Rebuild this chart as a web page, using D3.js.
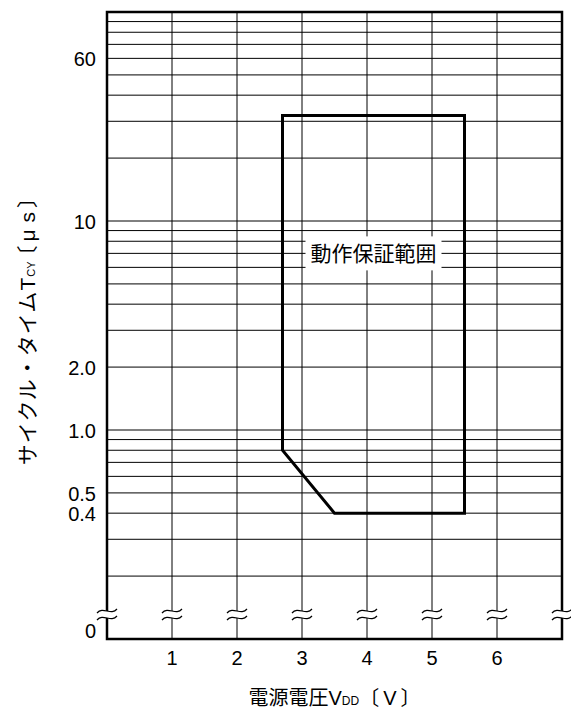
<!DOCTYPE html>
<html><head><meta charset="utf-8">
<script src="https://cdn.jsdelivr.net/npm/d3@7"></script>
<style>
body{margin:0;background:#fff}
text{font-family:"Liberation Sans",Arial,"Noto Sans CJK JP",sans-serif;fill:#000}
</style>
</head><body><svg id="c" width="571" height="711"></svg>
<script>
// ---- data ----
const xDomain = [0, 7];
const xTicks = [1, 2, 3, 4, 5, 6];
const yDomain = [0.1, 100];
const yGrid = [0.2,0.3,0.4,0.5,0.6,0.7,0.8,0.9,1,2,3,4,5,6,7,8,9,10,20,30,40,50,60,70,80,90];
const yTickValues = [60, 10, 2, 1, 0.5, 0.4];
const yTickLabels = ["60", "10", "2.0", "1.0", "0.5", "0.4"];
const zeroLabel = "0";
const breakXs = [0, 1, 2, 3, 4, 5, 6, 7];
const regionV = [2.7, 5.5, 5.5, 3.5, 2.7];
const regionT = [32, 32, 0.4, 0.4, 0.8];
const regionLabel = "動作保証範囲";
const regionLabelAt = [4.1, 7];
const xTitle = ["電源電圧V", "DD", "〔", "V", "〕"];
const yTitle = ["サイクル・タイムT", "CY", "〔", "μ", "s", "〕"];

// ---- chart ----
const svg = d3.select("#c");
const L = 107, R = 562, T = 12, B = 639;
const x = d3.scaleLinear().domain(xDomain).range([L, R]);
const y = d3.scaleLog().domain(yDomain).range([B, T]);

const g = svg.append("g");
g.selectAll("line.h").data(yGrid).join("line")
  .attr("x1", L).attr("x2", R)
  .attr("y1", d => y(d)).attr("y2", d => y(d))
  .attr("stroke", "#000").attr("stroke-width", 1);
g.selectAll("line.v").data(xTicks).join("line")
  .attr("y1", y(yDomain[1])).attr("y2", y(yDomain[0]))
  .attr("x1", d => x(d)).attr("x2", d => x(d))
  .attr("stroke", "#000").attr("stroke-width", 1);

svg.append("rect").attr("x", L).attr("y", T).attr("width", R - L).attr("height", B - T)
  .attr("fill", "none").attr("stroke", "#000").attr("stroke-width", 2.5);

// region label with white box
const lx = x(regionLabelAt[0]), ly = y(regionLabelAt[1]);
const lbl = svg.append("text").attr("x", lx).attr("y", ly).attr("dy", "0.36em")
  .attr("text-anchor", "middle").attr("font-size", 21).text(regionLabel);
const bb = lbl.node().getBBox();
svg.insert("rect", "text").attr("x", bb.x - 5).attr("y", ly - 17)
  .attr("width", bb.width + 10).attr("height", 34).attr("fill", "#fff");

// region polygon
const line = d3.line().x((d, i) => x(regionV[i])).y((d, i) => y(regionT[i]));
svg.append("path").attr("d", line(regionV) + "Z")
  .attr("fill", "none").attr("stroke", "#000").attr("stroke-width", 3)
  .attr("stroke-linejoin", "miter");

// break marks
const by = y(yDomain[0]) - 28;
const bk = svg.selectAll("g.bk").data(breakXs).join("g")
  .attr("transform", d => `translate(${x(d)},${by})`);
bk.append("path").attr("d", "M-10,2 C-4,-5 4,5 10,-2 L10,5 C4,12 -4,2 -10,9 Z").attr("fill", "#fff");
bk.append("path").attr("d", "M-10,2 C-4,-5 4,5 10,-2").attr("fill", "none").attr("stroke", "#000").attr("stroke-width", 1.2);
bk.append("path").attr("d", "M-10,9 C-4,2 4,12 10,5").attr("fill", "none").attr("stroke", "#000").attr("stroke-width", 1.2);

// y tick labels
svg.selectAll("text.yt").data(yTickValues).join("text").attr("class", "yt")
  .attr("x", 96).attr("y", d => y(d)).attr("dy", "0.38em")
  .attr("text-anchor", "end").attr("font-size", 20)
  .text((d, i) => yTickLabels[i]);
svg.append("text").attr("x", 96).attr("y", y(yDomain[0]) - 1)
  .attr("text-anchor", "end").attr("font-size", 20).text(zeroLabel);

// x tick labels
svg.selectAll("text.xt").data(xTicks).join("text").attr("class", "xt")
  .attr("x", d => x(d)).attr("y", 665)
  .attr("text-anchor", "middle").attr("font-size", 20).text(d => d);

// x title
const xt = svg.append("text").attr("x", (L + R) / 2).attr("y", 705)
  .attr("text-anchor", "middle").attr("font-size", 20);
xt.append("tspan").text(xTitle[0]);
xt.append("tspan").attr("font-size", 12).text(xTitle[1]);
xt.append("tspan").text(xTitle[2]);
xt.append("tspan").attr("dx", 4).text(xTitle[3]);
xt.append("tspan").attr("dx", 4).text(xTitle[4]);

// y title
const yt = svg.append("text").attr("transform", `translate(35,326) rotate(-90)`)
  .attr("text-anchor", "middle").attr("font-size", 21);
yt.append("tspan").attr("letter-spacing", 1).text(yTitle[0]);
yt.append("tspan").attr("font-size", 11).text(yTitle[1]);
yt.append("tspan").attr("dx", -5).text(yTitle[2]);
yt.append("tspan").attr("dx", 4).text(yTitle[3]);
yt.append("tspan").attr("dx", 7).text(yTitle[4]);
yt.append("tspan").attr("dx", 4).text(yTitle[5]);
</script>
</body></html>
